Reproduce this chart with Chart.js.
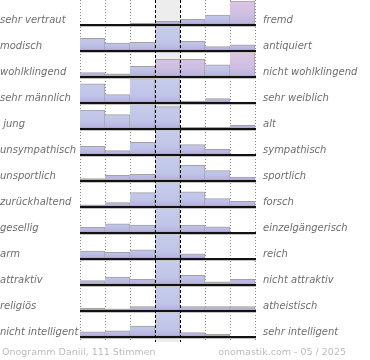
<!DOCTYPE html>
<html>
<head>
<meta charset="utf-8">
<script src="https://cdn.jsdelivr.net/npm/chart.js@4/dist/chart.umd.min.js"></script>
<style>
  html, body { margin: 0; padding: 0; background: #ffffff; }
  #wrap { width: 370px; height: 360px; }
</style>
</head>
<body>
<div id="wrap"><canvas id="c" width="370" height="360"></canvas></div>
<script>
// ----- data (bar height as % of one row; 100 = full row) -----
const columns = ['1', '2', '3', '4', '5', '6', '7'];
const leftLabels = ['sehr vertraut', 'modisch', 'wohlklingend', 'sehr männlich', ' jung', 'unsympathisch',
  'unsportlich', 'zurückhaltend', 'gesellig', 'arm', 'attraktiv', 'religiös', 'nicht intelligent'];
const rightLabels = ['fremd', 'antiquiert', 'nicht wohlklingend', 'sehr weiblich', 'alt', 'sympathisch',
  'sportlich', 'forsch', 'einzelgängerisch', 'reich', 'nicht attraktiv', 'atheistisch', 'sehr intelligent'];

const vertraut     = [0, 0, 7, 14, 22, 38, 92];
const modisch      = [49, 30, 33, 100, 37, 17, 24];
const wohlklingend = [17, 12, 41, 68, 68, 47, 100];
const maennlich    = [74, 32, 94, 100, 7, 17, 4];
const jung         = [73, 55, 100, 86, 6, 6, 14];
const sympathisch  = [33, 17, 49, 100, 40, 22, 0];
const sportlich    = [9, 22, 26, 100, 60, 40, 15];
const forsch       = [8, 17, 55, 100, 58, 32, 22];
const gesellig     = [22, 35, 30, 100, 30, 24, 0];
const arm          = [30, 26, 35, 100, 20, 0, 0];
const attraktiv    = [17, 30, 22, 100, 37, 12, 22];
const religioes    = [10, 8, 17, 100, 17, 17, 17];
const intelligent  = [20, 24, 42, 100, 17, 10, 0];
const rows = [vertraut, modisch, wohlklingend, maennlich, jung, sympathisch, sportlich,
  forsch, gesellig, arm, attraktiv, religioes, intelligent];
// bars shown in the pink tone (column indexes per row)
const pinkBars = [[6], [], [3, 4, 6], [], [], [], [], [], [], [], [], [], []];

const footerLeft = 'Onogramm Daniil, 111 Stimmen';
const footerRight = 'onomastik.com - 05 / 2025';

// ----- helpers -----
const N = rows.length;
const base = r => (N - 1 - r);           // baseline value of row r
const Y_MAX = (N - 1) + 25 / 26;
const LABEL_OFF = 0.19;

function barFill(ctx, r) {
  const pink = pinkBars[r].includes(ctx.dataIndex);
  const chart = ctx.chart;
  const ys = chart.scales && chart.scales.y;
  if (!ys || !chart.chartArea) return pink ? '#d8c2e3' : '#c3c8e9';
  const top = ys.getPixelForValue(base(r) + 1);
  const bot = ys.getPixelForValue(base(r));
  const g = chart.ctx.createLinearGradient(0, top, 0, bot);
  if (pink) {
    g.addColorStop(0, '#dfc5e4');
    g.addColorStop(0.6, '#cfbfe2');
    g.addColorStop(0.9, '#bdb6e0');
    g.addColorStop(1, '#a593cb');
  } else {
    g.addColorStop(0, '#c7cdec');
    g.addColorStop(0.7, '#c0c5e8');
    g.addColorStop(0.9, '#b9b6e0');
    g.addColorStop(1, '#a494c9');
  }
  return g;
}

const datasets = rows.map((vals, r) => ({
  label: leftLabels[r],
  data: vals.map(v => [base(r), base(r) + Math.min(v, 100) / 100]),
  backgroundColor: ctx => barFill(ctx, r),
  borderColor: '#a2a2a2',
  borderWidth: ctx => {
    const v = rows[r][ctx.dataIndex];
    if (!v) return 0;
    return { top: v >= 100 ? 0 : 1, right: 1, bottom: 0, left: 0 };
  },
  borderSkipped: false,
  categoryPercentage: 1,
  barPercentage: 1,
  grouped: false
}));

const labelTicks = () => rows.map((_, r) => ({ value: base(r) + LABEL_OFF }));
const labelFont = { family: 'DejaVu Sans', size: 10, style: 'italic' };

const decor = {
  id: 'decor',
  beforeDatasetsDraw(chart) {
    const { ctx, chartArea: a, scales: { x } } = chart;
    const w = x.getPixelForValue(1) - x.getPixelForValue(0);
    const cx = x.getPixelForValue(3);
    ctx.save();
    ctx.fillStyle = '#ededed';
    ctx.fillRect(cx - w / 2, a.top, w, a.bottom - a.top + 5);
    ctx.strokeStyle = '#8c8c8c';
    ctx.lineWidth = 1;
    ctx.setLineDash([1, 2]);
    [0, 1, 2, 5, 6, 7].forEach(i => {
      const px = Math.round(x.getPixelForValue(0) - w / 2 + i * w) + 0.5;
      ctx.beginPath(); ctx.moveTo(px, a.top); ctx.lineTo(px, a.bottom + 5); ctx.stroke();
    });
    ctx.restore();
  },
  afterDatasetsDraw(chart) {
    const { ctx, chartArea: a, scales: { x, y } } = chart;
    const w = x.getPixelForValue(1) - x.getPixelForValue(0);
    ctx.save();
    rows.forEach((_, r) => {
      const py = Math.round(y.getPixelForValue(base(r)));
      ctx.fillStyle = '#c4c4c4';
      ctx.fillRect(a.left, py + 1, a.right - a.left + 1, 1);
      ctx.fillStyle = '#111111';
      ctx.fillRect(a.left, py - 1, a.right - a.left + 1, 2);
    });
    ctx.strokeStyle = '#000000';
    ctx.lineWidth = 1;
    ctx.setLineDash([3, 2]);
    [3, 4].forEach(i => {
      const px = Math.round(x.getPixelForValue(0) - w / 2 + i * w) + 0.5;
      ctx.beginPath(); ctx.moveTo(px, a.top); ctx.lineTo(px, a.bottom + 5); ctx.stroke();
    });
    ctx.setLineDash([]);
    ctx.fillStyle = '#bcbcbc';
    ctx.font = '9.5px "DejaVu Sans"';
    ctx.textBaseline = 'middle';
    ctx.textAlign = 'left';
    ctx.fillText(footerLeft, 2, 352.5);
    ctx.textAlign = 'right';
    ctx.fillText(footerRight, 346, 352.5);
    ctx.restore();
  }
};

const fixAxis = width => s => { s.width = width; s.paddingTop = 0; s.paddingBottom = 0; };

new Chart(document.getElementById('c'), {
  type: 'bar',
  data: { labels: columns, datasets },
  options: {
    responsive: false,
    animation: false,
    devicePixelRatio: 1,
    layout: { padding: { top: 0, bottom: 23, left: 0, right: 0 } },
    plugins: { legend: { display: false }, tooltip: { enabled: false }, title: { display: false } },
    scales: {
      x: { display: false, offset: true },
      y: {
        position: 'left', min: 0, max: Y_MAX,
        grid: { display: false, drawTicks: false }, border: { display: false },
        afterBuildTicks: s => { s.ticks = labelTicks(); },
        afterFit: fixAxis(80),
        ticks: { autoSkip: false, padding: 0, crossAlign: 'far', color: '#6e6e6e', font: labelFont,
          callback: (v, i) => leftLabels[i] }
      },
      y2: {
        position: 'right', min: 0, max: Y_MAX,
        grid: { display: false, drawTicks: false }, border: { display: false },
        afterBuildTicks: s => { s.ticks = labelTicks(); },
        afterFit: fixAxis(115),
        ticks: { autoSkip: false, padding: 8, crossAlign: 'near', color: '#6e6e6e', font: labelFont,
          callback: (v, i) => rightLabels[i] }
      }
    }
  },
  plugins: [decor]
});
</script>
</body>
</html>
